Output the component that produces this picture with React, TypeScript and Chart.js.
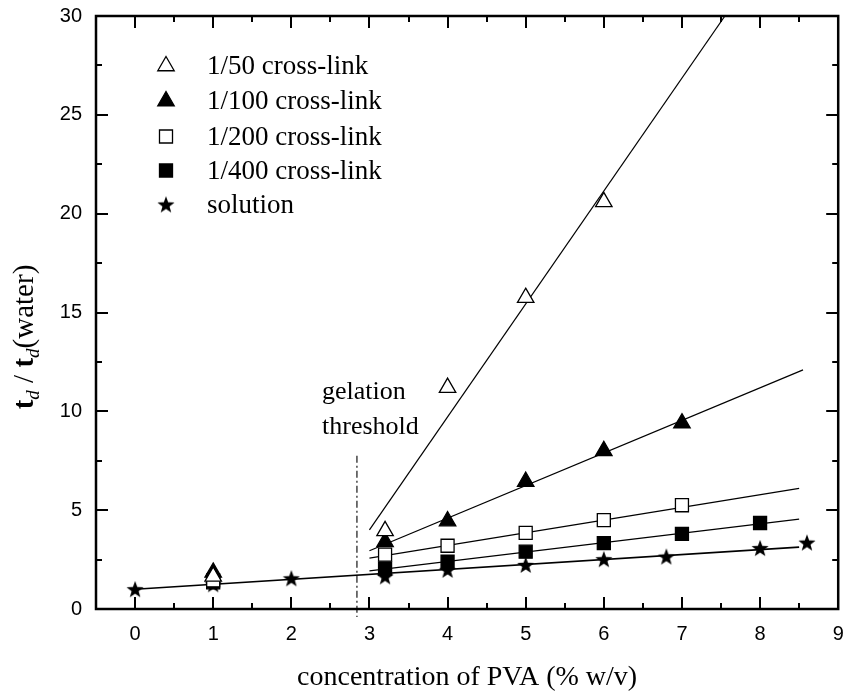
import React, { useEffect, useRef } from 'react';
import { Chart, registerables } from 'chart.js';

Chart.register(...registerables);

// ---------- axis ----------
const X_MIN = -0.5;
const X_MAX = 9;
const Y_MIN = 0;
const Y_MAX = 30;
const xTickValues = [0, 1, 2, 3, 4, 5, 6, 7, 8, 9];
const yTickValues = [0, 5, 10, 15, 20, 25, 30];
const xMinorValues = [0.5, 1.5, 2.5, 3.5, 4.5, 5.5, 6.5, 7.5, 8.5];
const yMinorValues = [2.5, 7.5, 12.5, 17.5, 22.5, 27.5];

// ---------- series ----------
const seriesNames = ['1/50 cross-link', '1/100 cross-link', '1/200 cross-link', '1/400 cross-link', 'solution'];

const x50 = [1, 3.2, 4, 5, 6];
const y50 = [1.65, 3.95, 11.2, 15.75, 20.6];

const x100 = [1, 3.2, 4, 5, 6, 7];
const y100 = [1.85, 3.4, 4.45, 6.45, 8.0, 9.4];

const x200 = [1, 3.2, 4, 5, 6, 7];
const y200 = [1.45, 2.75, 3.2, 3.85, 4.5, 5.25];

const x400 = [1, 3.2, 4, 5, 6, 7, 8];
const y400 = [1.35, 2.05, 2.4, 2.9, 3.33, 3.8, 4.35];

const xSol = [0, 1, 2, 3.2, 4, 5, 6, 6.8, 8, 8.6];
const ySol = [1.0, 1.25, 1.55, 1.65, 1.98, 2.23, 2.52, 2.65, 3.08, 3.36];

// fitted lines (end points)
const fit50X = [3.0, 7.55];
const fit50Y = [4.0, 30];
const fit100X = [3.0, 8.55];
const fit100Y = [2.95, 12.1];
const fit200X = [3.0, 8.5];
const fit200Y = [2.57, 6.1];
const fit400X = [3.0, 8.5];
const fit400Y = [1.93, 4.55];
const fitSolX = [0, 8.5];
const fitSolY = [1.0, 3.13];

// gelation threshold marker
const thresholdX = [2.84, 2.84];
const thresholdY = [7.75, -0.4];
const thresholdText = ['gelation', 'threshold'];

const xTitle = 'concentration of PVA (% w/v)';

const SERIF = '"Liberation Serif", "Times New Roman", serif';
const SANS = '"Liberation Sans", Arial, sans-serif';

const zip = (xs: number[], ys: number[]) => xs.map((x, i) => ({ x, y: ys[i] }));

function makeStar(): HTMLCanvasElement {
  const c = document.createElement('canvas');
  c.width = 20;
  c.height = 20;
  const g = c.getContext('2d')!;
  const R = 9;
  const r = 3.7;
  g.beginPath();
  for (let k = 0; k < 10; k++) {
    const a = -Math.PI / 2 + (k * Math.PI) / 5;
    const rr = k % 2 === 0 ? R : r;
    const px = 10 + rr * Math.cos(a);
    const py = 10.8 + rr * Math.sin(a);
    if (k === 0) g.moveTo(px, py);
    else g.lineTo(px, py);
  }
  g.closePath();
  g.fillStyle = '#000';
  g.fill();
  return c;
}

const TRI_R = 9.5;
const SQ_R = 9.2;

export default function App() {
  const ref = useRef<HTMLCanvasElement | null>(null);

  useEffect(() => {
    if (!ref.current) return;
    const star = makeStar();

    const lineDs = (xs: number[], ys: number[], w = 1.2) => ({
      data: zip(xs, ys),
      showLine: true,
      pointRadius: 0,
      borderColor: '#000',
      borderWidth: w,
      fill: false,
    });

    const decor = {
      id: 'decor',
      afterDraw(chart: any) {
        const { ctx, chartArea } = chart;
        const xs = chart.scales.x;
        const ys = chart.scales.y;
        const { left, right, top, bottom } = chartArea;
        ctx.save();
        ctx.strokeStyle = '#000';
        ctx.fillStyle = '#000';
        // ticks (inward on all 4 sides)
        const MAJ = 12;
        const MIN = 6;
        ctx.lineWidth = 2;
        ctx.beginPath();
        const vx = (v: number, len: number) => {
          const p = Math.round(xs.getPixelForValue(v));
          ctx.moveTo(p, bottom);
          ctx.lineTo(p, bottom - len);
          ctx.moveTo(p, top);
          ctx.lineTo(p, top + len);
        };
        const vy = (v: number, len: number) => {
          const p = Math.round(ys.getPixelForValue(v));
          ctx.moveTo(left, p);
          ctx.lineTo(left + len, p);
          ctx.moveTo(right, p);
          ctx.lineTo(right - len, p);
        };
        xTickValues.forEach((v) => vx(v, MAJ));
        xMinorValues.forEach((v) => vx(v, MIN));
        yTickValues.forEach((v) => vy(v, MAJ));
        yMinorValues.forEach((v) => vy(v, MIN));
        ctx.stroke();
        // frame
        ctx.lineWidth = 2.5;
        ctx.strokeRect(left, top, right - left, bottom - top);

        // legend
        const lx = 166;
        const rows = [66, 101, 136.5, 170.5, 204.5];
        ctx.lineWidth = 1.3;
        rows.forEach((ry, i) => {
          if (i === 0 || i === 1) {
            const r = TRI_R;
            ctx.beginPath();
            ctx.moveTo(lx, ry - r);
            ctx.lineTo(lx + 0.866 * r, ry + 0.5 * r);
            ctx.lineTo(lx - 0.866 * r, ry + 0.5 * r);
            ctx.closePath();
            ctx.fillStyle = i === 0 ? '#fff' : '#000';
            ctx.fill();
            ctx.stroke();
          } else if (i === 2 || i === 3) {
            const s = Math.SQRT1_2 * SQ_R;
            ctx.beginPath();
            ctx.rect(lx - s, ry - s, 2 * s, 2 * s);
            ctx.fillStyle = i === 2 ? '#fff' : '#000';
            ctx.fill();
            ctx.stroke();
          } else {
            ctx.drawImage(star, lx - star.width / 2, ry - star.height / 2);
          }
        });
        ctx.fillStyle = '#000';
        ctx.font = `27px ${SERIF}`;
        ctx.textAlign = 'left';
        ctx.textBaseline = 'middle';
        rows.forEach((ry, i) => ctx.fillText(seriesNames[i], 207, ry + 1));

        // gelation threshold text
        ctx.font = `26px ${SERIF}`;
        ctx.textBaseline = 'alphabetic';
        ctx.fillText(thresholdText[0], 322, 399);
        ctx.fillText(thresholdText[1], 322, 434);

        // x title
        ctx.font = `28px ${SERIF}`;
        ctx.textAlign = 'center';
        ctx.fillText(xTitle, (left + right) / 2, 685);

        // y title (rotated, mixed styles)
        const parts = [
          { t: 't', f: `bold 29px ${SERIF}`, dy: 0 },
          { t: 'd', f: `italic 19px ${SERIF}`, dy: 6 },
          { t: ' / ', f: `29px ${SERIF}`, dy: 0 },
          { t: 't', f: `bold 29px ${SERIF}`, dy: 0 },
          { t: 'd', f: `italic 19px ${SERIF}`, dy: 6 },
          { t: '(water)', f: `29px ${SERIF}`, dy: 0 },
        ];
        let total = 0;
        const widths = parts.map((p) => {
          ctx.font = p.f;
          const w = ctx.measureText(p.t).width;
          total += w;
          return w;
        });
        ctx.translate(33, 337);
        ctx.rotate(-Math.PI / 2);
        ctx.textAlign = 'left';
        let cx = -total / 2;
        parts.forEach((p, i) => {
          ctx.font = p.f;
          ctx.fillText(p.t, cx, p.dy);
          cx += widths[i];
        });
        ctx.restore();
      },
    };

    const chart = new Chart(ref.current, {
      type: 'scatter',
      data: {
        datasets: [
          {
            label: seriesNames[0],
            data: zip(x50, y50),
            pointStyle: 'triangle',
            pointRadius: TRI_R,
            backgroundColor: '#fff',
            borderColor: '#000',
            borderWidth: 1.3,
          },
          {
            label: seriesNames[1],
            data: zip(x100, y100),
            pointStyle: 'triangle',
            pointRadius: TRI_R,
            backgroundColor: '#000',
            borderColor: '#000',
            borderWidth: 1.3,
          },
          {
            label: seriesNames[2],
            data: zip(x200, y200),
            pointStyle: 'rect',
            pointRadius: SQ_R,
            backgroundColor: '#fff',
            borderColor: '#000',
            borderWidth: 1.3,
          },
          {
            label: seriesNames[3],
            data: zip(x400, y400),
            pointStyle: 'rect',
            pointRadius: SQ_R,
            backgroundColor: '#000',
            borderColor: '#000',
            borderWidth: 1.3,
          },
          {
            label: seriesNames[4],
            data: zip(xSol, ySol),
            pointStyle: star as any,
            pointRadius: 8,
            backgroundColor: '#000',
            borderColor: '#000',
          },
          { label: 'fit50', ...lineDs(fit50X, fit50Y) },
          { label: 'fit100', ...lineDs(fit100X, fit100Y) },
          { label: 'fit200', ...lineDs(fit200X, fit200Y) },
          { label: 'fit400', ...lineDs(fit400X, fit400Y) },
          { label: 'fitSol', ...lineDs(fitSolX, fitSolY, 1.6) },
          {
            label: 'threshold',
            ...lineDs(thresholdX, thresholdY, 1.1),
            borderDash: [7, 3, 2, 3],
            clip: false,
          },
        ] as any,
      },
      options: {
        animation: false,
        responsive: false,
        layout: { padding: { top: 16, right: 3, left: 0, bottom: 0 } },
        plugins: { legend: { display: false }, tooltip: { enabled: false } },
        scales: {
          x: {
            type: 'linear',
            min: X_MIN,
            max: X_MAX,
            afterBuildTicks: (s: any) => {
              s.ticks = xTickValues.map((v) => ({ value: v }));
            },
            afterFit: (s: any) => {
              s.height = 85;
              s.paddingLeft = 0;
              s.paddingRight = 0;
              s.paddingTop = 0;
              s.paddingBottom = 0;
            },
            grid: { display: false, drawTicks: false },
            border: { display: false },
            ticks: {
              font: { family: SANS, size: 20 },
              color: '#000',
              padding: 13,
              maxRotation: 0,
              autoSkip: false,
            },
          },
          y: {
            type: 'linear',
            min: Y_MIN,
            max: Y_MAX,
            afterBuildTicks: (s: any) => {
              s.ticks = yTickValues.map((v) => ({ value: v }));
            },
            afterFit: (s: any) => {
              s.width = 96;
              s.paddingLeft = 0;
              s.paddingRight = 0;
              s.paddingTop = 0;
              s.paddingBottom = 0;
            },
            grid: { display: false, drawTicks: false },
            border: { display: false },
            ticks: {
              font: { family: SANS, size: 20 },
              color: '#000',
              padding: 14,
              autoSkip: false,
            },
          },
        },
      } as any,
      plugins: [decor],
    });
    return () => chart.destroy();
  }, []);

  return (
    <div
      style={{
        position: 'fixed',
        left: 0,
        top: 0,
        width: 847,
        height: 694,
        overflow: 'hidden',
        background: '#fff',
      }}
    >
      <canvas ref={ref} width={849} height={694} style={{ display: 'block' }} />
    </div>
  );
}
